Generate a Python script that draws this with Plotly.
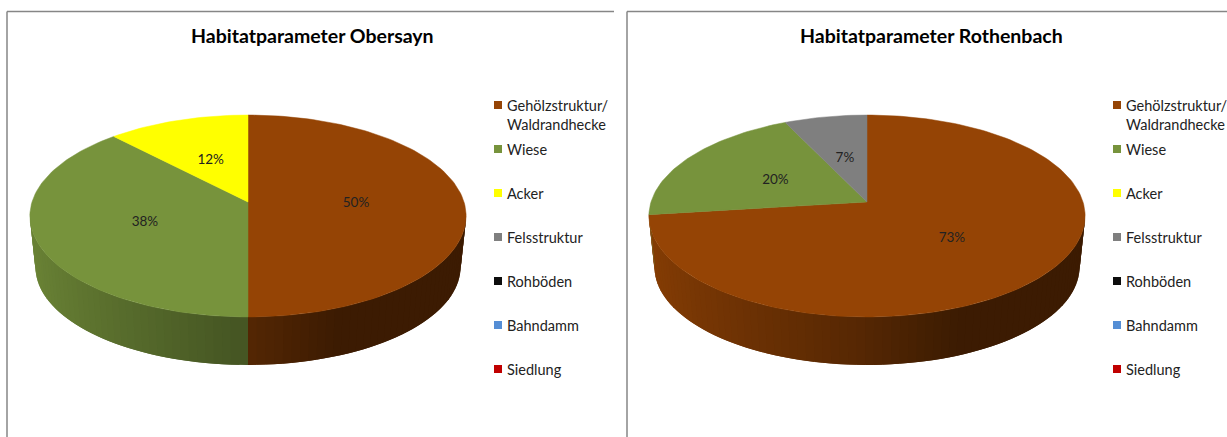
import math
import plotly.graph_objects as go

categories = ["Gehölzstruktur/<br>Waldrandhecke", "Wiese", "Acker", "Felsstruktur", "Rohböden", "Bahndamm", "Siedlung"]
obersayn_values = [50, 38, 12, 0, 0, 0, 0]
rothenbach_values = [73, 20, 0, 7, 0, 0, 0]
colors = ["#954405", "#77933C", "#FFFF00", "#7F7F7F", "#0D0D0D", "#558ED5", "#C00000"]
titles = ["Habitatparameter Obersayn", "Habitatparameter Rothenbach"]

K = 0.1386
TOP = dict(a=216, b=99, cy=202)
BASE = dict(a=210.5, b=96, cy=253.5)
FONT = "Lato"


def project(cx, ring, theta, r=1.0):
    X, Y = r * math.sin(theta), r * math.cos(theta)
    d = 1 + K * Y
    return cx + ring["a"] * X / d, ring["cy"] - ring["b"] * Y / d


def shade(hex_color, frac):
    # frac: horizontal position on the rim, -1 (left) ... 1 (right)
    if frac < 0:
        f = 0.90 + (0.58 - 0.90) * (frac + 1)
    else:
        f = max(0.40, 0.58 - 0.18 * frac / 0.4)
    rgb = [int(hex_color[i:i + 2], 16) for i in (1, 3, 5)]
    return "rgb({},{},{})".format(*[round(c * f) for c in rgb])


def add_pie(fig, cx, values, title, legend_x):
    total = sum(values)
    start = 0.0
    spans = []
    for v, c in zip(values, colors):
        if v:
            end = start + 2 * math.pi * v / total
            spans.append((start, end, c, v))
            start = end
    # side wall: painted in order, each piece overlapping the next so no seams show
    lo, hi = math.radians(96), math.radians(264)
    for s, e, c, v in spans:
        a, b = max(s, lo), min(e, hi)
        if b <= a:
            continue
        n = max(1, int((b - a) / math.radians(2.0)))
        step = (b - a) / n
        for i in reversed(range(n)):
            t0 = a + step * i
            t1 = min(t0 + step * 2, b)
            pts = [project(cx, TOP, t0), project(cx, TOP, t1), project(cx, BASE, t1), project(cx, BASE, t0)]
            col = shade(c, math.sin(t0 + step / 2))
            fig.add_trace(go.Scatter(x=[p[0] for p in pts] + [pts[0][0]], y=[p[1] for p in pts] + [pts[0][1]],
                                     mode="lines", fill="toself", fillcolor=col,
                                     line=dict(width=0), hoverinfo="skip", showlegend=False))
    # top surface
    for s, e, c, v in spans:
        n = max(4, int((e - s) / math.radians(1.5)))
        pts = [(cx, TOP["cy"])] + [project(cx, TOP, s + (e - s) * i / n) for i in range(n + 1)] + [(cx, TOP["cy"])]
        fig.add_trace(go.Scatter(x=[p[0] for p in pts], y=[p[1] for p in pts], mode="lines", fill="toself",
                                 fillcolor=c, line=dict(color=c, width=0.5), hoverinfo="skip", showlegend=False))
    # percentage labels
    lx, ly, lt = [], [], []
    for s, e, c, v in spans:
        x, y = project(cx, TOP, (s + e) / 2, 0.5)
        lx.append(x), ly.append(y + 2), lt.append(f"{round(100 * v / total)}%")
    fig.add_trace(go.Scatter(x=lx, y=ly, text=lt, mode="text", textposition="middle center",
                             textfont=dict(family=FONT, size=13.5, color="#222222"), hoverinfo="skip", showlegend=False))
    # legend
    ys = [105 + 44 * i for i in range(len(categories))]
    fig.add_trace(go.Scatter(x=[legend_x] * len(categories), y=ys, mode="markers",
                             marker=dict(symbol="square", size=8, color=colors), hoverinfo="skip", showlegend=False))
    for name, y in zip(categories, ys):
        fig.add_annotation(x=legend_x + 8, y=y - 9, text=name, xref="x", yref="y", xanchor="left", yanchor="top",
                           align="left", showarrow=False, borderpad=0,
                           font=dict(family=FONT, size=14.5, color="#222222"))
    fig.add_annotation(x=cx + 64, y=35, text=f"<b>{title}</b>", xref="x", yref="y", showarrow=False,
                       font=dict(family=FONT, size=19.5, color="#000000"))


fig = go.Figure()
add_pie(fig, 248, obersayn_values, titles[0], 498)
add_pie(fig, 867, rothenbach_values, titles[1], 1117)

border = dict(color="#868686", width=1.5)
for x0, x1 in [(7, 614), (627, 1227)]:
    fig.add_shape(type="line", x0=x0, x1=x1, y0=11.5, y1=11.5, xref="x", yref="y", line=border)
    fig.add_shape(type="line", x0=x0, x1=x0, y0=11.5, y1=437, xref="x", yref="y", line=border)

fig.update_layout(
    width=1227, height=437, margin=dict(l=0, r=0, t=0, b=0),
    paper_bgcolor="white", plot_bgcolor="white", showlegend=False,
    xaxis=dict(range=[0, 1227], visible=False, fixedrange=True),
    yaxis=dict(range=[437, 0], visible=False, fixedrange=True),
)
fig.write_html("out.html", config={"displayModeBar": False},
               post_script="document.body.style.margin='0';document.body.style.overflow='hidden';")
